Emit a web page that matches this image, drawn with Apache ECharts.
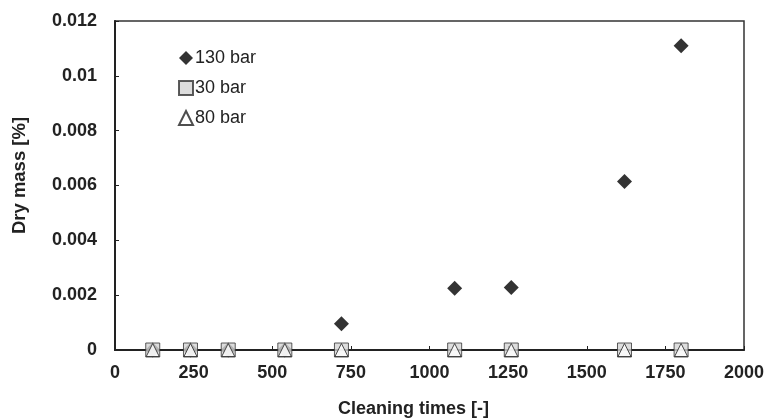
<!DOCTYPE html>
<html>
<head>
<meta charset="utf-8">
<script src="https://cdn.jsdelivr.net/npm/echarts@6/dist/echarts.min.js"></script>
<style>html,body{margin:0;padding:0;background:#fff}#c{width:767px;height:420px}</style>
</head>
<body>
<div id="c"></div>
<script>
const cleaningTimes = [120, 240, 360, 540, 720, 1080, 1260, 1620, 1800];
const bar130 = [0, 0, 0, 0, 0.00096, 0.00225, 0.00228, 0.00615, 0.0111];
const bar30 = [0, 0, 0, 0, 0, 0, 0, 0, 0];
const bar80 = [0, 0, 0, 0, 0, 0, 0, 0, 0];
const xTicks = [0, 250, 500, 750, 1000, 1250, 1500, 1750, 2000];
const yTicks = [0, 0.002, 0.004, 0.006, 0.008, 0.01, 0.012];

const pairs = arr => cleaningTimes.map((x, i) => [x, arr[i]]);
const font = 'Liberation Sans, Arial, sans-serif';
const chart = echarts.init(document.getElementById('c'), null, {renderer: 'canvas'});
chart.setOption({
  animation: false,
  backgroundColor: '#fff',
  grid: {left: 115, right: 23, top: 21, bottom: 70, containLabel: false, outerBoundsMode: 'none',
    show: true, borderColor: '#333', borderWidth: 1.5, backgroundColor: 'transparent'},
  legend: {
    orient: 'vertical', left: 178, top: 48, itemGap: 10, itemWidth: 14, itemHeight: 14, padding: 0,
    textStyle: {fontFamily: font, fontSize: 18, lineHeight: 20, color: '#222', padding: [0, 0, 0, -3]},
    data: ['130 bar', '30 bar', '80 bar']
  },
  xAxis: {
    type: 'value', min: xTicks[0], max: xTicks[xTicks.length - 1], interval: 250,
    name: 'Cleaning times [-]', nameLocation: 'middle', nameGap: 50,
    nameTextStyle: {fontFamily: font, fontSize: 18, fontWeight: 'bold', color: '#222', padding: [0, 32, 0, 0]},
    axisLine: {lineStyle: {color: '#222', width: 2}},
    axisTick: {inside: true, length: 4, lineStyle: {color: '#222', width: 1}},
    axisLabel: {fontFamily: font, fontSize: 18, fontWeight: 'bold', color: '#222', margin: 14,
      formatter: v => String(v)},
    splitLine: {show: false}
  },
  yAxis: {
    type: 'value', min: yTicks[0], max: yTicks[yTicks.length - 1], interval: 0.002,
    name: 'Dry mass [%]', nameLocation: 'middle', nameGap: 86, nameRotate: 90,
    nameTextStyle: {fontFamily: font, fontSize: 18.5, fontWeight: 'bold', color: '#222', padding: [0, 0, 0, 20]},
    axisLine: {show: true, lineStyle: {color: '#222', width: 2}},
    axisTick: {show: true, inside: true, length: 4, lineStyle: {color: '#222', width: 1}},
    axisLabel: {fontFamily: font, fontSize: 18, fontWeight: 'bold', color: '#222', margin: 18,
      formatter: v => String(parseFloat(v.toFixed(3)))},
    splitLine: {show: false}
  },
  series: [
    {name: '130 bar', type: 'scatter', data: pairs(bar130), symbol: 'diamond', symbolSize: 15,
     itemStyle: {color: '#000'}, z: 2},
    {name: '30 bar', type: 'scatter', data: pairs(bar30), symbol: 'rect', symbolSize: 14,
     itemStyle: {color: '#d4d4d4', borderColor: '#333', borderWidth: 1}, z: 3},
    {name: '80 bar', type: 'scatter', data: pairs(bar80), symbol: 'triangle', symbolSize: [13, 13],
     itemStyle: {color: '#fff', borderColor: '#222', borderWidth: 1}, z: 4}
  ]
});
</script>
</body>
</html>
